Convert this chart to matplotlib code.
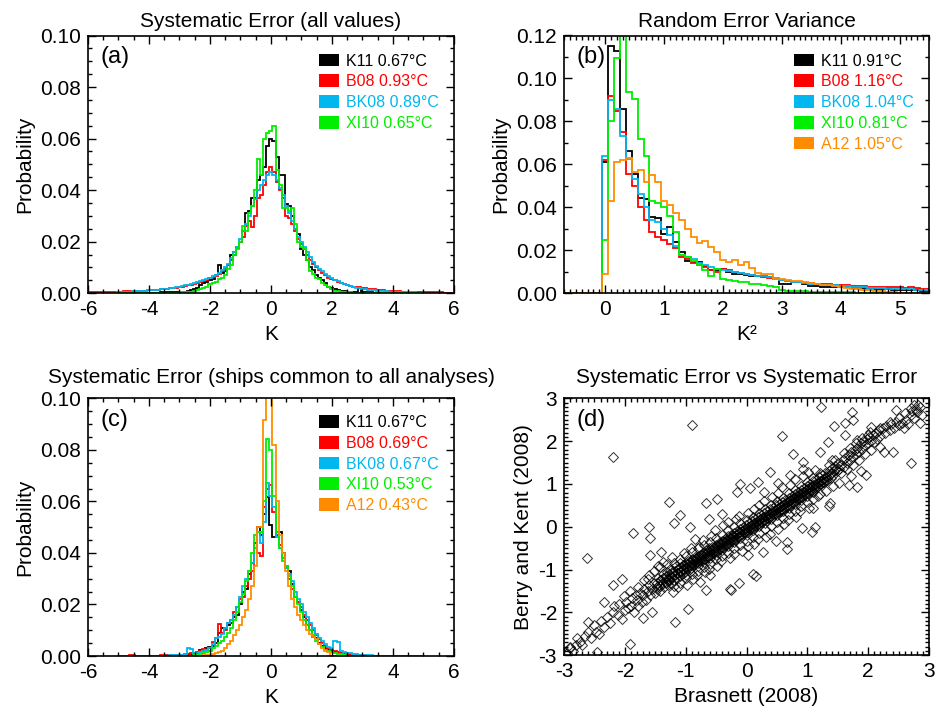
import numpy as np
import matplotlib
matplotlib.use("Agg")
import matplotlib.pyplot as plt
from matplotlib.patches import Patch
from matplotlib.ticker import MultipleLocator, FormatStrFormatter

plt.rcParams['font.family'] = ['Liberation Sans', 'DejaVu Sans']
plt.rcParams['axes.unicode_minus'] = False

colors = {"K11": "black", "B08": "#ff0000", "BK08": "#00b8ee",
          "XI10": "#00ee00", "A12": "#ff8c00"}

# ---- panel (a): systematic error, all values (probability x 1e4, bins of 0.1 K)
a_start = {"K11": -5.0, "B08": -6.0, "BK08": -5.0, "XI10": -5.0}
a_k11 = [1, 1, 1, 1, 1, 1, 1, 1, 2, 2, 2, 2, 2, 2, 3, 3, 3, 3, 4, 4,
         3, 4, 5, 8, 12, 18, 22, 30, 38, 45,
         50, 55, 70, 108, 80, 85, 110, 150, 150, 175,
         200, 240, 310, 320, 370, 370, 440, 460, 490, 570,
         600, 590, 530, 460, 460, 345, 340, 300, 250, 230,
         170, 150, 130, 100, 90, 70, 60, 50, 40, 25,
         20, 15, 12, 10, 8, 6, 5, 5, 4, 22,
         4, 3, 3, 3, 2, 2, 2, 2, 2, 2,
         1, 1, 1, 1, 1, 1, 1, 1, 1, 1, 1]
a_b08 = [3, 3, 3, 3, 4, 4, 4, 4, 5, 5,
         6, 6, 7, 7, 8, 8, 9, 9, 10, 10,
         11, 12, 13, 14, 15, 16, 18, 19, 20, 22,
         24, 26, 28, 30, 33, 35, 38, 42, 46, 50,
         58, 62, 68, 75, 85, 95, 110, 130, 160, 180,
         200, 220, 260, 280, 257, 300, 370, 380, 420, 470,
         490, 470, 430, 400, 370, 300, 290, 270, 240, 210,
         190, 170, 150, 130, 115, 100, 90, 80, 70, 60,
         55, 50, 45, 40, 35, 32, 28, 25, 24, 23,
         22, 20, 18, 16, 15, 13, 12, 11, 10, 9,
         8, 7, 7, 6, 6, 5, 5, 5, 4, 4,
         4, 4, 3, 3, 3, 3, 3, 2, 2, 2, 2]
a_bk08 = [4, 5, 5, 6, 6, 7, 7, 8, 9, 10,
          11, 12, 13, 14, 15, 16, 18, 20, 22, 24,
          26, 28, 30, 33, 36, 40, 44, 48, 52, 56,
          60, 65, 72, 80, 90, 100, 115, 135, 160, 180,
          210, 240, 270, 300, 340, 367, 400, 420, 440, 460,
          470, 460, 440, 410, 380, 340, 310, 280, 250, 220,
          200, 180, 160, 140, 120, 105, 95, 85, 75, 65,
          58, 52, 46, 41, 36, 32, 28, 25, 22, 20,
          18, 16, 14, 12, 11, 10, 9, 8, 7, 6,
          6, 5, 5, 4, 4, 3, 3, 3, 2, 2, 2]
a_xi10 = [1, 1, 1, 1, 1, 1, 1, 1, 1, 1,
          1, 1, 1, 1, 1, 1, 2, 2, 2, 2,
          2, 3, 3, 4, 6, 8, 12, 15, 20, 25,
          35, 40, 45, 55, 60, 70, 95, 110, 150, 170,
          200, 260, 240, 310, 340, 400, 520, 460, 600, 620,
          630, 650, 480, 420, 330, 330, 320, 330, 270, 200,
          180, 170, 130, 85, 75, 60, 55, 40, 30, 25,
          15, 10, 8, 5, 4, 3, 3, 2, 2, 2,
          1, 1, 1, 1, 1, 1, 1, 1, 1, 1,
          1, 1, 1, 1, 1, 1, 1, 1, 1, 1, 1]
a_labels = ["K11 0.67°C", "B08 0.93°C", "BK08 0.89°C", "XI10 0.65°C"]

# ---- panel (b): random error variance (probability x 1e4, bins of 0.1 K^2)
b_start = -0.7
b_k11 = [0, 0, 0, 0, 0, 0, 0,
         610, 1150, 1130, 860, 660, 557, 445, 440, 355, 350,
         275, 310, 240, 190, 150, 146, 146, 125, 110, 110,
         115, 100, 90, 90, 85, 80, 80, 80, 75, 64,
         45, 45, 50, 50, 45, 35, 35, 30, 30, 30,
         30, 28, 26, 25, 24, 22, 20, 19, 18, 17,
         16, 15, 14, 13, 12, 10]
b_b08 = [0, 0, 0, 0, 0, 0, 0,
         620, 920, 850, 750, 557, 500, 400, 340, 285, 260,
         250, 230, 210, 170, 160, 140, 130, 120, 110, 100,
         115, 110, 100, 95, 90, 85, 80, 75, 70, 65,
         60, 56, 52, 50, 48, 46, 44, 44, 42, 40,
         38, 36, 35, 34, 32, 31, 30, 30, 28, 28,
         27, 26, 28, 25, 22, 20]
b_bk08 = [0, 0, 0, 0, 0, 0, 0,
          640, 900, 860, 730, 625, 530, 460, 400, 340, 330,
          300, 270, 220, 180, 170, 160, 140, 130, 120, 115,
          110, 105, 100, 95, 90, 85, 80, 78, 75, 70,
          60, 55, 52, 50, 46, 44, 42, 40, 38, 36,
          34, 32, 30, 28, 27, 26, 25, 24, 22, 21,
          20, 19, 18, 17, 16, 15]
b_xi10 = [0, 0, 0, 0, 0, 0, 0,
          250, 800, 1095, 1300, 937, 906, 720, 640, 430, 420,
          400, 360, 285, 177, 170, 150, 130, 107, 80, 115,
          64, 60, 55, 52, 50, 45, 45, 40, 35, 30,
          15, 12, 10, 10, 9, 8, 7, 6, 6, 5,
          5, 4, 4, 3, 3, 3, 3, 2, 2, 2,
          0, 0, 0, 0, 0, 0]
b_a12 = [0, 0, 0, 0, 0, 0, 0,
         90, 430, 610, 620, 630, 565, 575, 520, 550, 520,
         430, 410, 375, 340, 300, 260, 234, 245, 215, 190,
         157, 146, 153, 130, 144, 118, 95, 90, 88, 68,
         66, 62, 58, 55, 50, 48, 45, 40, 36, 34,
         30, 26, 22, 18, 16, 14, 12, 10, 8, 6,
         0, 0, 0, 0, 0, 0]
b_labels = ["K11 0.91°C", "B08 1.16°C", "BK08 1.04°C", "XI10 0.81°C", "A12 1.05°C"]

# ---- panel (c): systematic error, ships common to all analyses (x 1e4, -5..5 K)
c_start = -5.0
c_k11 = [1, 1, 1, 1, 1, 1, 1, 1, 1, 1,
         1, 1, 1, 1, 2, 2, 2, 2, 2, 3,
         3, 4, 5, 6, 8, 10, 12, 25, 20, 30,
         35, 40, 50, 90, 110, 110, 120, 130, 150, 160,
         200, 250, 260, 320, 360, 440, 500, 470, 550, 618,
         510, 460, 480, 480, 400, 340, 330, 280, 230, 210,
         180, 150, 120, 100, 75, 70, 50, 40, 30, 25,
         20, 15, 12, 10, 10, 6, 5, 4, 5, 3,
         2, 2, 2, 2, 2, 1, 1, 1, 1, 1,
         1, 1, 1, 1, 1, 1, 1, 1, 1, 1, 1]
c_b08 = [1, 1, 1, 1, 4, 4, 2, 2, 2, 2,
         2, 2, 2, 2, 3, 5, 5, 4, 3, 3,
         4, 5, 6, 8, 10, 12, 15, 20, 28, 25,
         30, 55, 70, 125, 90, 100, 130, 140, 170, 190,
         220, 230, 270, 300, 330, 440, 400, 390, 580, 650,
         665, 560, 470, 430, 380, 350, 300, 260, 230, 210,
         190, 160, 140, 120, 100, 80, 65, 50, 40, 30,
         25, 20, 15, 12, 10, 8, 6, 5, 4, 3,
         3, 3, 2, 2, 2, 2, 2, 1, 1, 1,
         1, 1, 1, 1, 1, 1, 1, 1, 1, 1, 1]
c_bk08 = [1, 1, 1, 1, 1, 1, 1, 1, 1, 1,
          1, 1, 2, 2, 2, 2, 2, 3, 3, 3,
          4, 5, 6, 30, 28, 10, 12, 15, 20, 22,
          30, 45, 70, 75, 85, 110, 130, 140, 160, 190,
          230, 270, 300, 330, 360, 420, 480, 440, 520, 670,
          620, 580, 460, 420, 380, 340, 320, 290, 250, 220,
          200, 170, 150, 130, 110, 85, 70, 60, 45, 35,
          30, 58, 55, 18, 15, 12, 10, 8, 6, 5,
          4, 3, 5, 3, 2, 2, 1, 1, 1, 1,
          1, 1, 1, 1, 1, 1, 1, 1, 1, 1, 1]
c_xi10 = [0, 0, 0, 0, 0, 0, 0, 0, 0, 0,
          0, 0, 0, 0, 0, 0, 0, 0, 0, 0,
          1, 1, 1, 2, 2, 3, 5, 8, 10, 15,
          20, 30, 40, 50, 60, 75, 90, 110, 140, 170,
          210, 240, 290, 330, 400, 470, 480, 480, 600, 844,
          800, 620, 480, 420, 370, 350, 310, 270, 230, 200,
          170, 140, 120, 100, 80, 60, 45, 35, 25, 20,
          15, 10, 8, 6, 4, 0, 0, 0, 0, 0,
          0, 0, 0, 0, 0, 0, 0, 0, 0, 0,
          0, 0, 0, 0, 0, 0, 0, 0, 0, 0, 0]
c_a12 = [0, 0, 0, 0, 0, 0, 0, 0, 0, 0,
         0, 0, 0, 0, 0, 0, 0, 0, 0, 0,
         0, 0, 0, 0, 0, 1, 1, 2, 3, 4,
         5, 8, 10, 15, 20, 30, 45, 60, 80, 100,
         120, 150, 180, 220, 270, 350, 500, 500, 915, 1100,
         1100, 820, 600, 470, 400, 330, 270, 220, 190, 160,
         140, 120, 100, 85, 75, 65, 45, 30, 20, 15,
         0, 0, 0, 0, 0, 0, 0, 0, 0, 0,
         0, 0, 0, 0, 0, 0, 0, 0, 0, 0,
         0, 0, 0, 0, 0, 0, 0, 0, 0, 0, 0]
c_labels = ["K11 0.67°C", "B08 0.69°C", "BK08 0.67°C", "XI10 0.53°C", "A12 0.43°C"]

# ---- panel (d): Brasnett (2008) vs Berry and Kent (2008), per ship
d_points = [
    # scattered ships away from the main band
    (-0.89, 2.38), (-2.19, 1.64), (-2.63, -0.72), (1.23, 2.79), (0.58, 2.12), (0.76, 1.71),
    (1.74, 2.69), (1.43, 2.36), (1.62, 2.42), (1.75, 2.49), (2.70, 1.50), (2.41, 1.75),
    (2.26, 1.75), (1.96, 1.21), (1.82, 0.94), (1.69, 0.97), (1.37, 0.55), (1.36, 0.49),
    (1.10, 0.43), (1.08, -0.12), (1.12, 0.0), (0.91, -0.02), (0.66, -0.51), (0.66, -0.35),
    (0.49, -0.32), (0.11, -1.11), (0.16, -1.15), (-0.12, -1.32), (-0.25, -1.48), (-0.66, -1.48),
    (-0.96, -1.91), (-1.18, -2.22), (-1.86, -0.14), (-1.60, 0.0), (-1.58, -0.26), (-1.27, 0.58),
    (-1.09, 0.27), (-1.19, 0.08), (-0.93, 0.0), (-0.66, 0.55), (-0.48, 0.66), (-0.16, 0.82),
    (-0.11, 1.01), (0.19, 1.05), (0.38, 1.29), (0.05, 0.90), (0.93, 1.36), (0.93, 1.52),
    (1.20, 1.75), (1.34, 1.99), (1.62, 2.14), (1.81, 2.03), (2.05, 2.34), (2.46, 2.73),
    (2.82, 2.84), (2.71, 2.77), (2.85, 2.42), (-1.92, -2.73), (-2.46, -2.92), (-2.90, -2.84),
    (-2.74, -2.69), (-2.60, -2.22), (-2.35, -1.75), (-2.19, -1.36), (-2.05, -1.21), (-1.70, -2.14),
    (-1.56, -1.99), (-1.81, -1.60), (-1.59, -0.66), (-1.40, -0.58), (-1.37, -0.82), (-0.77, -1.29),
    (-0.60, -1.13), (-0.27, -1.44), (0.03, -0.66), (0.27, -0.58), (2.19, 1.87), (2.03, 2.22),
    (2.19, 2.30), (-0.62, 0.18), (-0.41, 0.31), (0.28, 0.82), (0.52, 1.02), (1.52, 1.02),
    (1.71, 1.18), (1.88, 1.31), (-1.62, -1.21), (-1.45, -0.92), (-0.85, -0.28), (0.71, 1.21),
    # lower-left tail of the band
    (-2.95, -2.95), (-2.90, -2.80), (-2.85, -2.90), (-2.80, -2.75), (-2.78, -2.60), (-2.70, -2.75),
    (-2.65, -2.55), (-2.60, -2.45), (-2.55, -2.60), (-2.50, -2.30), (-2.48, -2.45), (-2.42, -2.50),
    (-2.40, -2.20), (-2.35, -2.35), (-2.30, -2.10), (-2.25, -2.25), (-2.20, -2.00), (-2.18, -1.85),
    (-2.12, -2.05), (-2.10, -1.80), (-2.05, -2.15), (-2.00, -1.95), (-1.98, -1.75), (-1.95, -1.90),
    (-1.90, -1.85), (-1.88, -1.65), (-1.85, -2.00), (-1.80, -1.70), (-1.78, -1.85), (-1.75, -1.55),
    (-1.72, -1.75), (-1.70, -1.60), (-1.68, -1.45), (-1.65, -1.70), (-1.62, -1.50), (-1.60, -1.35),
    (-1.58, -1.60), (-1.55, -1.45), (-1.52, -1.30), (-1.50, -1.55), (-1.48, -1.40), (-1.46, -1.20),
    (-1.44, -1.35), (-1.42, -1.50), (-1.40, -1.25), (-1.38, -1.10), (-1.36, -1.40), (-1.34, -1.20),
    (-1.32, -1.30), (-1.30, -1.05), (-1.28, -1.25),
    # dense core
    (-1.30, -1.22), (-1.29, -1.36), (-1.25, -1.15), (-1.24, -1.30), (-1.26, -0.98), (-1.20, -1.12),
    (-1.21, -1.02), (-1.19, -1.25), (-1.15, -1.08), (-1.16, -0.92), (-1.14, -1.20), (-1.10, -1.05),
    (-1.11, -0.95), (-1.09, -1.15), (-1.10, -0.85), (-1.05, -0.98), (-1.06, -1.10), (-1.04, -0.88),
    (-1.00, -0.95), (-1.01, -1.05), (-0.99, -0.85), (-1.00, -1.12), (-0.95, -0.90), (-0.96, -0.80),
    (-0.94, -1.00), (-0.90, -0.85), (-0.91, -0.95), (-0.89, -0.75), (-0.90, -0.88), (-0.85, -0.80),
    (-0.86, -0.90), (-0.84, -0.70), (-0.80, -0.78), (-0.81, -0.70), (-0.79, -0.85), (-0.80, -0.92),
    (-0.75, -0.72), (-0.76, -0.65), (-0.74, -0.80), (-0.70, -0.68), (-0.71, -0.60), (-0.69, -0.75),
    (-0.70, -0.82), (-0.65, -0.62), (-0.66, -0.55), (-0.64, -0.70), (-0.60, -0.58), (-0.61, -0.50),
    (-0.59, -0.65), (-0.60, -0.72), (-0.55, -0.55), (-0.56, -0.48), (-0.54, -0.62), (-0.50, -0.50),
    (-0.51, -0.42), (-0.49, -0.58), (-0.50, -0.65), (-0.45, -0.45), (-0.46, -0.38), (-0.44, -0.52),
    (-0.40, -0.40), (-0.41, -0.32), (-0.39, -0.48), (-0.40, -0.55), (-0.35, -0.35), (-0.36, -0.28),
    (-0.34, -0.42), (-0.30, -0.30), (-0.31, -0.22), (-0.29, -0.38), (-0.30, -0.45), (-0.25, -0.26),
    (-0.26, -0.18), (-0.24, -0.32), (-0.20, -0.22), (-0.21, -0.14), (-0.19, -0.30), (-0.20, -0.35),
    (-0.15, -0.17), (-0.16, -0.10), (-0.14, -0.24), (-0.10, -0.12), (-0.11, -0.05), (-0.09, -0.20),
    (-0.10, -0.25), (-0.05, -0.08), (-0.06, 0.00), (-0.04, -0.15), (0.00, -0.04), (-0.01, 0.04),
    (0.01, -0.12), (0.00, -0.18), (0.05, 0.02), (0.04, 0.08), (0.06, -0.06), (0.10, 0.06),
    (0.09, 0.13), (0.11, -0.02), (0.10, -0.08), (0.15, 0.10), (0.14, 0.18), (0.16, 0.03),
    (0.20, 0.15), (0.19, 0.22), (0.21, 0.08), (0.20, 0.02), (0.25, 0.20), (0.24, 0.27),
    (0.26, 0.12), (0.30, 0.24), (0.29, 0.32), (0.31, 0.17), (0.30, 0.10), (0.35, 0.28),
    (0.34, 0.36), (0.36, 0.21), (0.40, 0.33), (0.39, 0.41), (0.41, 0.25), (0.40, 0.18),
    (0.45, 0.37), (0.44, 0.45), (0.46, 0.30), (0.50, 0.42), (0.49, 0.50), (0.51, 0.34),
    (0.50, 0.28), (0.55, 0.46), (0.54, 0.54), (0.56, 0.38), (0.60, 0.50), (0.59, 0.58),
    (0.61, 0.43), (0.60, 0.36), (0.65, 0.55), (0.64, 0.63), (0.66, 0.47), (0.70, 0.60),
    (0.69, 0.68), (0.71, 0.52), (0.70, 0.45), (0.75, 0.64), (0.74, 0.72), (0.76, 0.56),
    (0.80, 0.68), (0.79, 0.76), (0.81, 0.60), (0.80, 0.54), (0.85, 0.73), (0.84, 0.81),
    (0.86, 0.65), (0.90, 0.78), (0.89, 0.86), (0.91, 0.70), (0.90, 0.62), (0.95, 0.82),
    (0.94, 0.90), (0.96, 0.74), (1.00, 0.88), (0.99, 0.96), (1.01, 0.80), (1.00, 0.72),
    (1.05, 0.92), (1.04, 1.00), (1.06, 0.84), (1.10, 0.98), (1.09, 1.06), (1.11, 0.90),
    (1.10, 0.82), (1.15, 1.02), (1.14, 1.10), (1.16, 0.94), (1.20, 1.08), (1.19, 1.16),
    (1.21, 1.00), (1.25, 1.12), (1.24, 1.22), (1.26, 1.04), (1.30, 1.18), (1.29, 1.26),
    (1.31, 1.08),
    (-1.48, -1.30), (-1.47, -1.45), (-1.43, -1.25), (-1.42, -1.38), (-1.38, -1.20), (-1.37, -1.32),
    (-1.33, -1.15), (-1.32, -1.28), (-1.28, -1.10), (-1.27, -1.22), (-1.23, -1.08), (-1.22, -1.18),
    (-1.18, -1.02), (-1.17, -1.13), (-1.13, -0.98), (-1.12, -1.08), (-1.08, -0.93), (-1.07, -1.03),
    (-1.03, -0.90), (-1.02, -0.99), (-0.98, -0.86), (-0.97, -0.94), (-0.93, -0.82), (-0.92, -0.90),
    (-0.88, -0.78), (-0.87, -0.86), (-0.83, -0.74), (-0.82, -0.83), (-0.78, -0.70), (-0.77, -0.78),
    (-0.73, -0.66), (-0.72, -0.74), (-0.68, -0.62), (-0.67, -0.70), (-0.63, -0.57), (-0.62, -0.65),
    (-0.58, -0.53), (-0.57, -0.61), (-0.53, -0.48), (-0.52, -0.56), (-0.48, -0.44), (-0.47, -0.52),
    (-0.43, -0.40), (-0.42, -0.47), (-0.38, -0.35), (-0.37, -0.43), (-0.33, -0.31), (-0.32, -0.38),
    (-0.28, -0.27), (-0.27, -0.34), (-0.23, -0.22), (-0.22, -0.29), (-0.18, -0.18), (-0.17, -0.25),
    (-0.13, -0.13), (-0.12, -0.21), (-0.08, -0.09), (-0.07, -0.16), (-0.03, -0.05), (-0.02, -0.11),
    (0.02, 0.00), (0.03, -0.07), (0.07, 0.04), (0.08, -0.03), (0.12, 0.09), (0.13, 0.02),
    (0.17, 0.13), (0.18, 0.06), (0.22, 0.18), (0.23, 0.11), (0.27, 0.22), (0.28, 0.15),
    (0.32, 0.27), (0.33, 0.20), (0.37, 0.31), (0.38, 0.24), (0.42, 0.36), (0.43, 0.29),
    (0.47, 0.40), (0.48, 0.33), (0.52, 0.45), (0.53, 0.38), (0.57, 0.49), (0.58, 0.42),
    (0.62, 0.54), (0.63, 0.47), (0.67, 0.58), (0.68, 0.51), (0.72, 0.63), (0.73, 0.56),
    (0.77, 0.67), (0.78, 0.60), (0.82, 0.72), (0.83, 0.65), (0.87, 0.76), (0.88, 0.69),
    (0.92, 0.81), (0.93, 0.74), (0.97, 0.85), (0.98, 0.78), (1.02, 0.90), (1.03, 0.83),
    (1.07, 0.94), (1.08, 0.87), (1.12, 0.99), (1.13, 0.92), (1.17, 1.03), (1.18, 0.96),
    (1.22, 1.08), (1.23, 1.01), (1.27, 1.12), (1.28, 1.05), (1.32, 1.17), (1.33, 1.10),
    (1.37, 1.21), (1.38, 1.26), (1.43, 1.30), (1.47, 1.36),
    # band edges
    (-1.20, -0.85), (-1.10, -0.75), (-1.00, -0.68), (-0.90, -0.58), (-0.80, -0.50), (-0.70, -0.42),
    (-0.60, -0.35), (-0.50, -0.25), (-0.40, -0.18), (-0.30, -0.08), (-0.20, 0.00), (-0.10, 0.08),
    (0.00, 0.15), (0.10, 0.24), (0.20, 0.32), (0.30, 0.42), (0.40, 0.50), (0.50, 0.60),
    (0.60, 0.68), (0.70, 0.78), (0.80, 0.86), (0.90, 0.95), (1.00, 1.05), (1.10, 1.15),
    (1.20, 1.25), (-1.20, -1.38), (-1.10, -1.30), (-1.00, -1.20), (-0.90, -1.10), (-0.80, -1.02),
    (-0.70, -0.94), (-0.60, -0.86), (-0.50, -0.76), (-0.40, -0.68), (-0.30, -0.60), (-0.20, -0.50),
    (-0.10, -0.42), (0.00, -0.32), (0.10, -0.24), (0.20, -0.15), (0.30, -0.06), (0.40, 0.02),
    (0.50, 0.12), (0.60, 0.20), (0.70, 0.30), (0.80, 0.38), (0.90, 0.48), (1.00, 0.58),
    (1.10, 0.66), (1.20, 0.76),
    # upper-right tail of the band
    (1.35, 1.30), (1.38, 1.15), (1.40, 1.38), (1.42, 1.22), (1.45, 1.42), (1.48, 1.30),
    (1.50, 1.50), (1.52, 1.35), (1.55, 1.45), (1.58, 1.55), (1.60, 1.40), (1.62, 1.60),
    (1.65, 1.50), (1.68, 1.68), (1.70, 1.55), (1.72, 1.75), (1.75, 1.62), (1.78, 1.80),
    (1.80, 1.70), (1.82, 1.85), (1.85, 1.75), (1.88, 1.95), (1.90, 1.82), (1.92, 2.00),
    (1.95, 1.90), (1.98, 2.05), (2.00, 1.95), (2.02, 2.10), (2.05, 2.00), (2.08, 2.15),
    (2.10, 1.98), (2.12, 2.20), (2.15, 2.05), (2.18, 2.25), (2.20, 2.12), (2.25, 2.30),
    (2.28, 2.18), (2.30, 2.35), (2.35, 2.25), (2.38, 2.40), (2.42, 2.30), (2.45, 2.45),
    (2.50, 2.38), (2.55, 2.42), (2.58, 2.30), (2.62, 2.50), (2.65, 2.40), (2.70, 2.62),
    (2.72, 2.70), (2.75, 2.55), (2.78, 2.75), (2.80, 2.68), (2.85, 2.80), (2.88, 2.62),
    (2.75, 2.85), (2.60, 2.65), (2.50, 2.55), (2.35, 2.45), (1.55, 1.25), (1.65, 1.35),
    (1.75, 1.45), (1.85, 1.55), (1.95, 1.70), (2.05, 1.80), (1.45, 1.55), (1.60, 1.72),
    (1.70, 1.85), (1.80, 1.95), (1.90, 2.08), (2.00, 2.15), (1.35, 1.45), (1.40, 1.55),
    # looser ships either side of the band
    (-1.02, -0.62), (-0.91, -0.49), (-0.78, -0.46), (-0.71, -0.31), (-0.58, -0.21), (-0.52, -0.08),
    (-0.39, 0.04), (-0.31, 0.12), (-0.18, 0.19), (-0.12, 0.26), (0.02, 0.33), (0.12, 0.41),
    (0.21, 0.52), (0.28, 0.61), (0.42, 0.69), (0.51, 0.78), (0.58, 0.92), (0.72, 0.98),
    (0.79, 1.12), (0.92, 1.18), (1.01, 1.27), (1.12, 1.33), (-0.98, -1.36), (-0.88, -1.22),
    (-0.82, -1.13), (-0.69, -1.06), (-0.62, -0.98), (-0.48, -0.91), (-0.42, -0.79), (-0.28, -0.73),
    (-0.21, -0.63), (-0.08, -0.56), (0.02, -0.44), (0.12, -0.41), (0.18, -0.29), (0.32, -0.24),
    (0.38, -0.16), (0.52, -0.04), (0.61, 0.06), (0.68, 0.16), (0.82, 0.24), (0.88, 0.36),
    (1.02, 0.44), (1.18, 0.71), (1.31, 0.84), (1.42, 0.96), (-1.22, -0.71), (-1.31, -0.86),
    (-1.42, -0.94), (-1.21, -1.52), (-1.12, -1.41), (-1.52, -1.02), (-1.61, -1.12), (-1.69, -1.24),
    (-1.79, -1.41), (-1.91, -1.49), (-2.02, -1.61),
]
d_x = [p[0] for p in d_points]
d_y = [p[1] for p in d_points]


def draw_hist(ax, start, vals, color):
    vals = np.array(vals, dtype=float) / 1e4
    edges = start - 0.05 + 0.1 * np.arange(len(vals) + 1)
    ax.stairs(vals, edges, color=color, lw=1.3, baseline=0)


def style_axes(ax, xmaj, xmin, ymaj, ymin):
    ax.xaxis.set_major_locator(MultipleLocator(xmaj))
    ax.xaxis.set_minor_locator(MultipleLocator(xmin))
    ax.yaxis.set_major_locator(MultipleLocator(ymaj))
    ax.yaxis.set_minor_locator(MultipleLocator(ymin))
    ax.tick_params(which='both', direction='in', top=True, right=True,
                   labelsize=15, width=1)
    ax.tick_params(which='major', length=6, pad=5)
    ax.tick_params(which='minor', length=3)
    for s in ax.spines.values():
        s.set_linewidth(1.2)


def add_legend(ax, names, labels, y0):
    handles = [Patch(facecolor=colors[n], edgecolor='none') for n in names]
    ax.legend(handles, labels, loc='upper left', bbox_to_anchor=(0.63, y0),
              frameon=False, fontsize=11.5, handlelength=1.25, handleheight=0.85,
              handletextpad=0.45, labelspacing=0.36, borderpad=0,
              borderaxespad=0, labelcolor=[colors[n] for n in names])


fig = plt.figure(figsize=(9.36, 7.10), dpi=100)
ax_a = fig.add_axes([0.094, 0.587, 0.391, 0.363])
ax_b = fig.add_axes([0.6026, 0.587, 0.39, 0.363])
ax_c = fig.add_axes([0.094, 0.076, 0.391, 0.363])
ax_d = fig.add_axes([0.6026, 0.077, 0.39, 0.362])

# (a)
for name, vals in zip(["K11", "B08", "BK08", "XI10"], [a_k11, a_b08, a_bk08, a_xi10]):
    draw_hist(ax_a, a_start[name], vals, colors[name])
ax_a.set_xlim(-6, 6)
ax_a.set_ylim(0, 0.1)
style_axes(ax_a, 2, 0.5, 0.02, 0.005)
ax_a.yaxis.set_major_formatter(FormatStrFormatter('%.2f'))
ax_a.set_title("Systematic Error (all values)", fontsize=15, pad=6)
ax_a.set_xlabel("K", fontsize=15)
ax_a.set_ylabel("Probability", fontsize=15)
ax_a.text(0.033, 0.96, "(a)", transform=ax_a.transAxes, fontsize=17, va='top')
add_legend(ax_a, ["K11", "B08", "BK08", "XI10"], a_labels, 0.93)

# (b)
for name, vals in zip(["K11", "B08", "BK08", "XI10", "A12"], [b_k11, b_b08, b_bk08, b_xi10, b_a12]):
    draw_hist(ax_b, b_start, vals, colors[name])
ax_b.set_xlim(-0.7, 5.5)
ax_b.set_ylim(0, 0.12)
style_axes(ax_b, 1, 0.1, 0.02, 0.01)
ax_b.yaxis.set_major_formatter(FormatStrFormatter('%.2f'))
ax_b.set_title("Random Error Variance", fontsize=15, pad=6)
ax_b.set_xlabel("K²", fontsize=15)
ax_b.set_ylabel("Probability", fontsize=15)
ax_b.text(0.033, 0.96, "(b)", transform=ax_b.transAxes, fontsize=17, va='top')
add_legend(ax_b, ["K11", "B08", "BK08", "XI10", "A12"], b_labels, 0.93)

# (c)
for name, vals in zip(["K11", "B08", "BK08", "XI10", "A12"], [c_k11, c_b08, c_bk08, c_xi10, c_a12]):
    draw_hist(ax_c, c_start, vals, colors[name])
ax_c.set_xlim(-6, 6)
ax_c.set_ylim(0, 0.1)
style_axes(ax_c, 2, 0.5, 0.02, 0.005)
ax_c.yaxis.set_major_formatter(FormatStrFormatter('%.2f'))
ax_c.set_title("Systematic Error (ships common to all analyses)", fontsize=15, pad=11)
ax_c.set_xlabel("K", fontsize=15)
ax_c.set_ylabel("Probability", fontsize=15)
ax_c.text(0.033, 0.96, "(c)", transform=ax_c.transAxes, fontsize=17, va='top')
add_legend(ax_c, ["K11", "B08", "BK08", "XI10", "A12"], c_labels, 0.935)

# (d)
ax_d.plot(d_x, d_y, linestyle='none', marker='D', markersize=5, mfc='none',
          mec='black', mew=0.7, alpha=0.8)
ax_d.set_xlim(-3, 3)
ax_d.set_ylim(-3, 3)
style_axes(ax_d, 1, 0.1, 1, 0.1)
ax_d.set_title("Systematic Error vs Systematic Error", fontsize=15, pad=11)
ax_d.set_xlabel("Brasnett (2008)", fontsize=15)
ax_d.set_ylabel("Berry and Kent (2008)", fontsize=15)
ax_d.text(0.033, 0.96, "(d)", transform=ax_d.transAxes, fontsize=17, va='top')

fig.savefig("out.png", dpi=100)
